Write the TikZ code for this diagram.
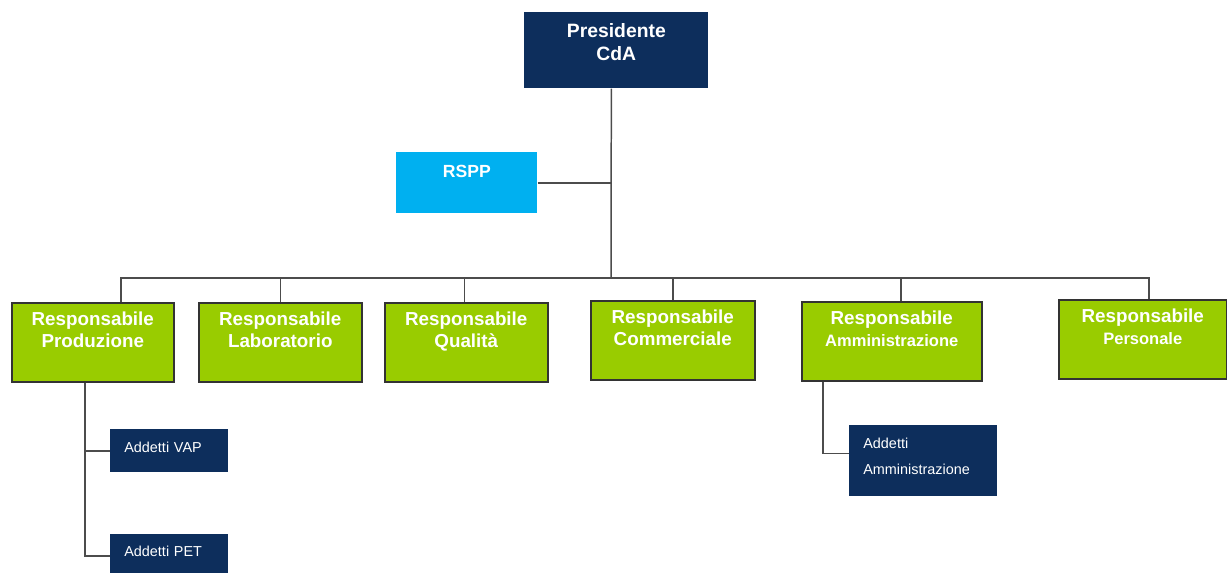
\documentclass[tikz,border=0pt]{standalone}
\usepackage{fontspec}
\setmainfont{Liberation Sans}
\usepackage{xcolor}
\usepackage{tikz}
\usetikzlibrary{positioning, calc}

\definecolor{navyblue}{RGB}{13,46,92}
\definecolor{skyblue}{RGB}{0,176,240}
\definecolor{limegreen}{RGB}{153,204,0}

\begin{document}
\begin{tikzpicture}[
    x=0.02cm, y=-0.02cm,
    % Styles
    headbox/.style={rectangle, fill=navyblue, text=white, inner sep=0pt, minimum width=3.68cm, align=center, font=\fontsize{11}{13}\selectfont\bfseries, text height=0.96cm, text depth=0.56cm},
    staffbox/.style={rectangle, fill=skyblue, text=white, inner sep=0pt, minimum width=2.82cm, align=center, font=\fontsize{10}{12}\selectfont\bfseries, text height=0.5cm, text depth=0.72cm},
    rolebox/.style={rectangle, draw=black!80, fill=limegreen, text=white, inner sep=0pt, line width=0.9pt, align=center, font=\fontsize{10.7}{12.5}\selectfont\bfseries, text height=0.9cm, text depth=0.68cm},
    teambox/.style={rectangle, fill=navyblue, text=white, inner ysep=0pt, inner xsep=0.28cm, align=left, font=\fontsize{8.2}{14.8}\selectfont},
    linkstyle/.style={line width=0.85pt, color=black!70},
]
\useasboundingbox (0,0) rectangle (1227,573);
\clip (0,0) rectangle (1227,573);

% === TOP ===
\node[headbox, anchor=north west] (pres) at (524,12) {Presidente\\CdA};
\node[staffbox, anchor=north west] (rspp) at (396,152) {RSPP};
\coordinate (bus) at (611,278);

% === RESPONSABILI ===
\node[rolebox, minimum width=3.24cm, anchor=north west] (prod) at (11,302) {Responsabile\\Produzione};
\node[rolebox, minimum width=3.26cm, anchor=north west] (lab) at (198,302) {Responsabile\\Laboratorio};
\node[rolebox, minimum width=3.26cm, anchor=north west] (qual) at (384,302) {Responsabile\\Qualità};
\node[rolebox, minimum width=3.28cm, anchor=north west] (comm) at (590,300) {Responsabile\\Commerciale};
\node[rolebox, minimum width=3.6cm, anchor=north west] (amm) at (801,301) {Responsabile\\{\fontsize{9.4}{12.5}\selectfont Amministrazione}};
\node[rolebox, minimum width=3.36cm, anchor=north west] (pers) at (1058,299) {Responsabile\\{\fontsize{9.4}{12.5}\selectfont Personale}};

% === ADDETTI ===
\node[teambox, text width=1.8cm, text height=0.46cm, text depth=0.4cm, anchor=north west] (vap) at (110,429) {Addetti VAP};
\node[teambox, text width=1.8cm, text height=0.44cm, text depth=0.42cm, anchor=north west] (pet) at (110,534) {Addetti PET};
\node[teambox, text width=2.4cm, text height=0.46cm, text depth=0.96cm, anchor=north west] (addamm) at (849,425) {Addetti\\Amministrazione};

% === LINKS ===
\draw[linkstyle] ([xshift=-0.1cm]pres.south) -- (bus);
\draw[linkstyle] (rspp.east) -- (rspp.east -| bus);
\draw[linkstyle] ([xshift=0.56cm]prod.north) |- (bus) -| ([xshift=0.12cm]pers.north);
\foreach \b/\s in {lab/0, qual/-0.04, comm/0, amm/0.18}
  \draw[linkstyle] ([xshift=\s cm]\b.north) -- ([xshift=\s cm]\b.north |- bus);
\foreach \t in {vap, pet}
  \draw[linkstyle] ([xshift=1.48cm]prod.south west) |- (\t.west);
\draw[linkstyle] ([xshift=0.44cm]amm.south west) |- ([yshift=0.15cm]addamm.west);

\end{tikzpicture}
\end{document}
